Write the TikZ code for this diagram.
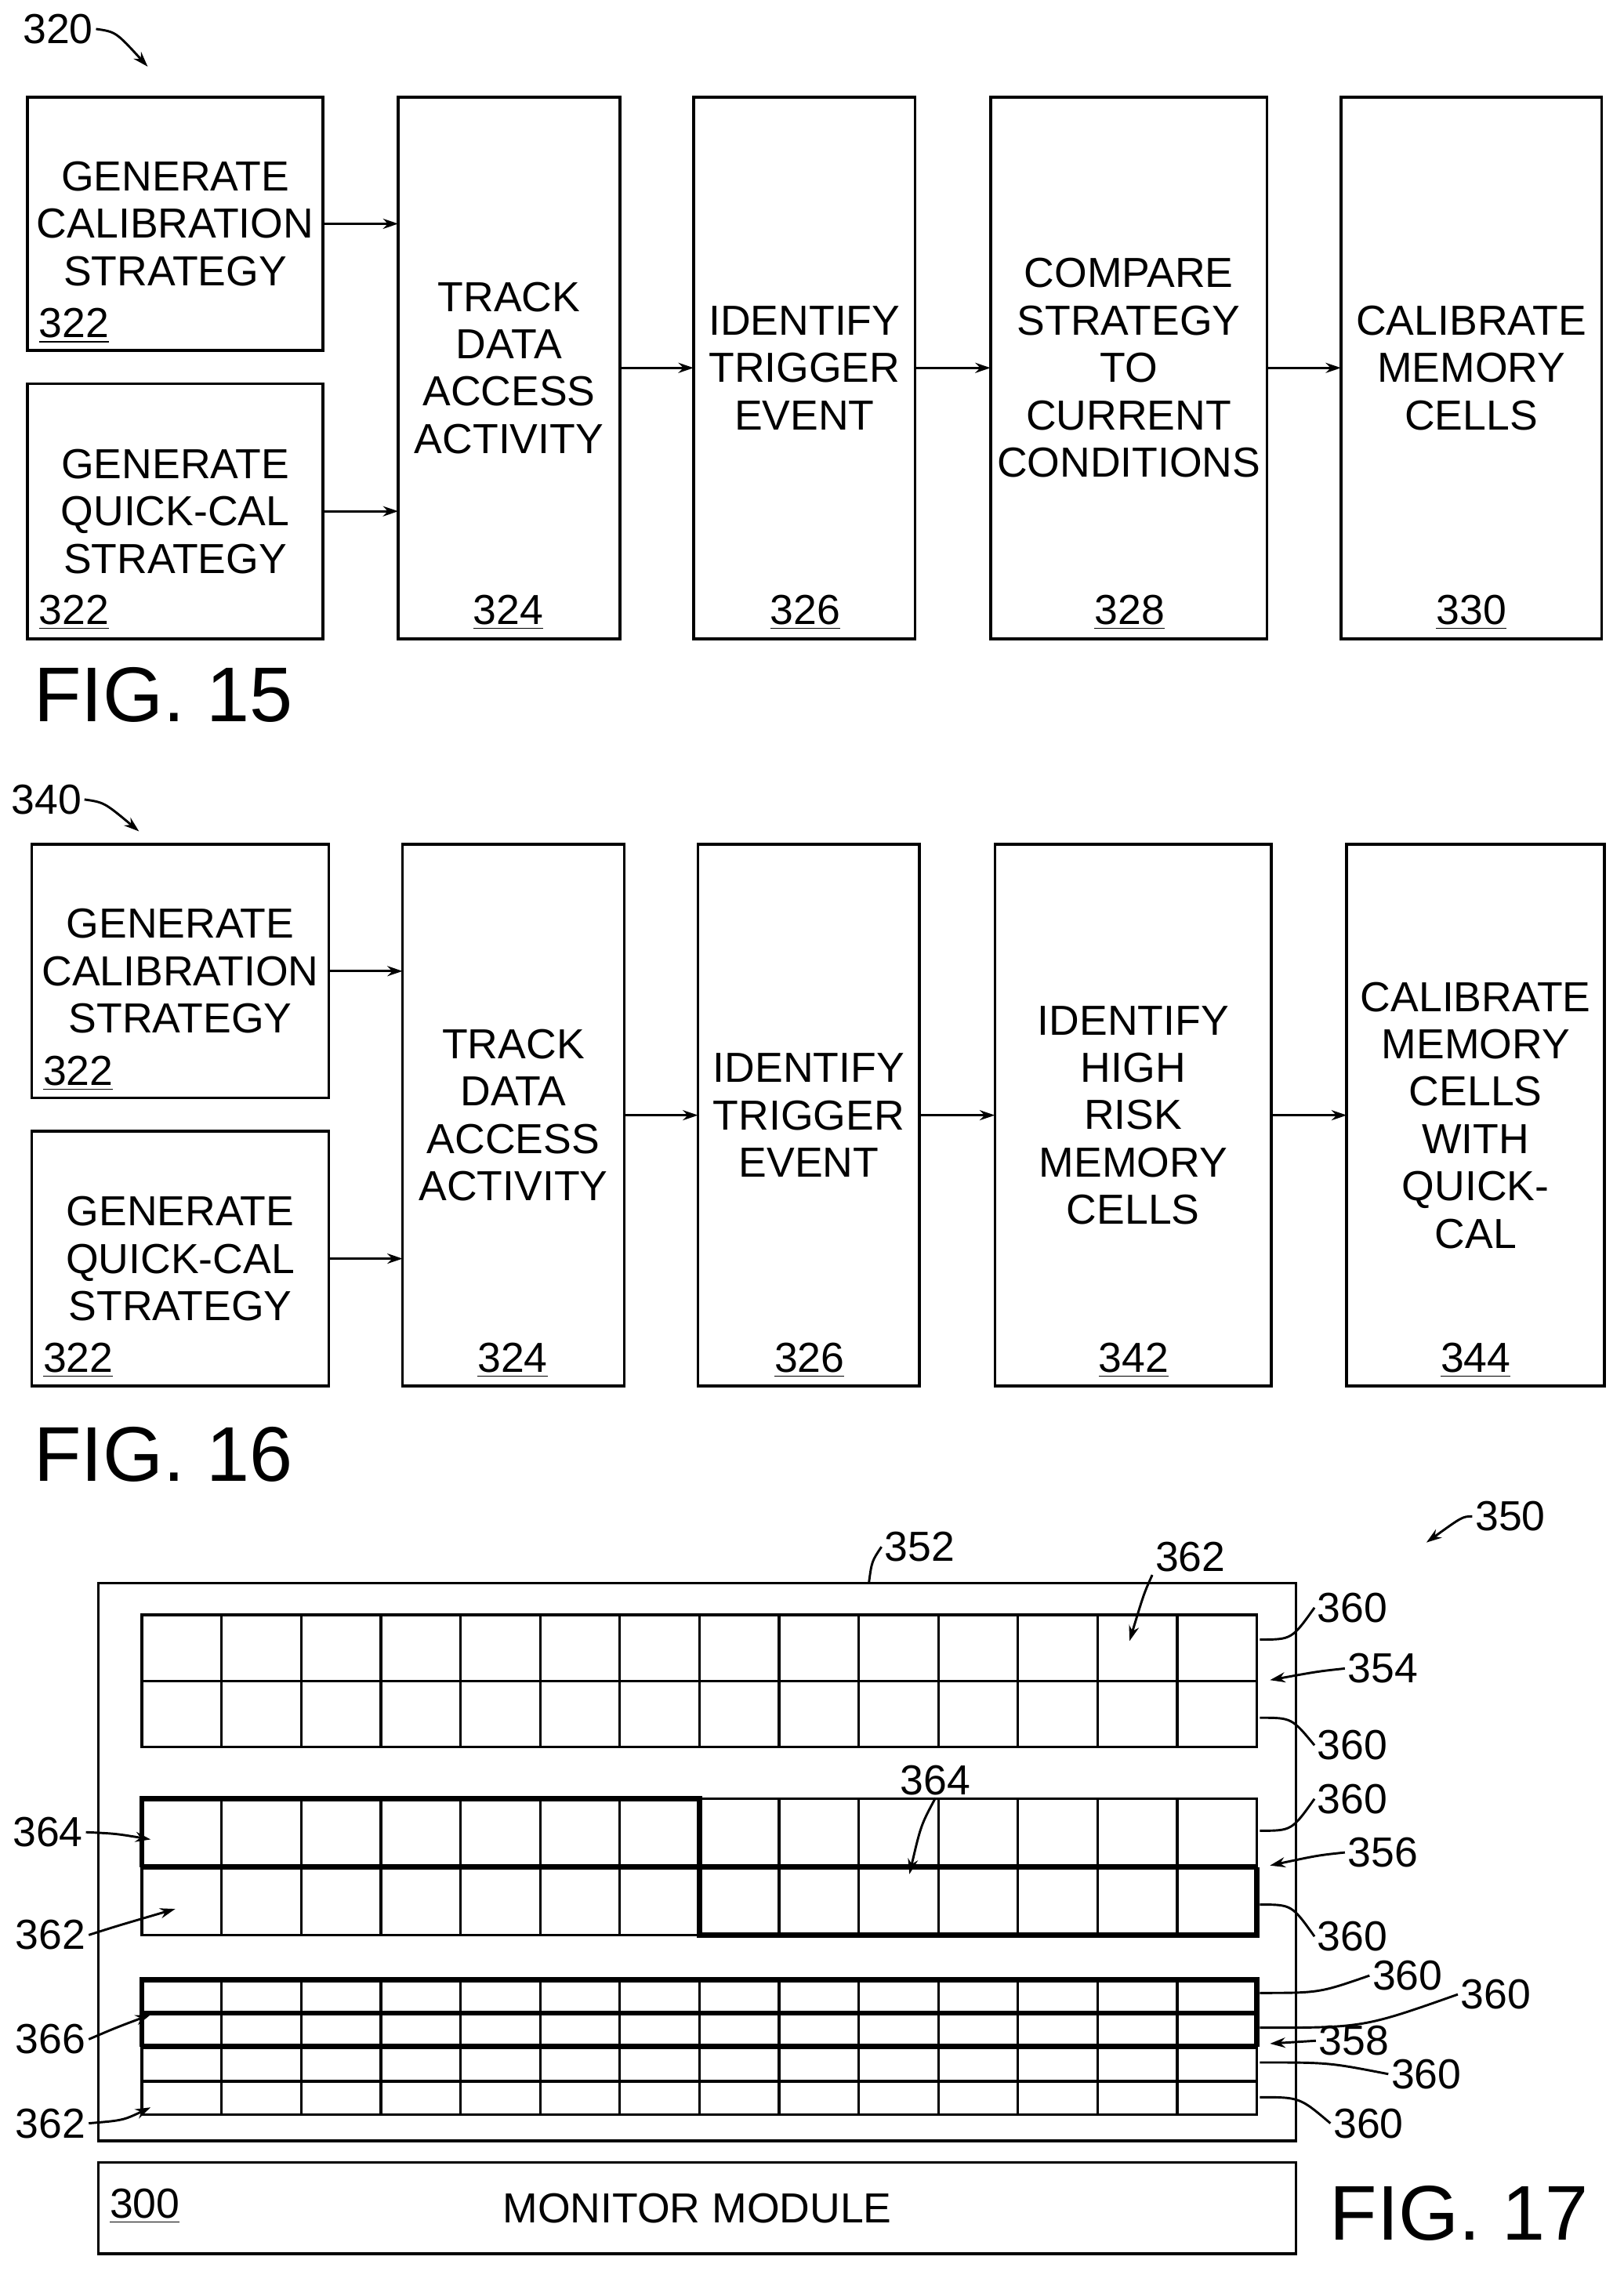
\documentclass[tikz,border=0pt]{standalone}
\usepackage{fontspec}
\setmainfont{Liberation Sans}
\usetikzlibrary{arrows.meta}

\tikzset{
  box/.style={draw,line width=1.1pt,inner sep=0pt,outer sep=0pt,align=center,
              font=\fontsize{16.5}{18.6}\selectfont},
  num/.style={font=\fontsize{16.5}{17}\selectfont,inner sep=1pt},
  fig/.style={font=\fontsize{30.5}{31}\selectfont,anchor=west,inner sep=0pt},
  arr/.style={line width=0.9pt,-{Stealth[length=6pt,width=4pt]}},
  lead/.style={line width=0.9pt},
  thin grid/.style={line width=1pt},
  thick grid/.style={line width=2pt}
}
\newcommand\blk[6]{\node[box,minimum width={(#4-#2)*0.02cm},minimum height={(#5-#3)*0.02cm}]
  (#1) at ({(#2+#4)/2},{(#3+#5)/2}) {#6};}

\begin{document}
\begin{tikzpicture}[x=0.02cm,y=-0.02cm]
\useasboundingbox (0,0) rectangle (1121,1568);

% FIG. 15
\blk{a1}{19}{67}{223}{242}{GENERATE\\CALIBRATION\\STRATEGY}
\blk{a2}{19}{265}{223}{441}{GENERATE\\QUICK-CAL\\STRATEGY}
\blk{b}{275}{67}{428}{441}{TRACK\\DATA\\ACCESS\\ACTIVITY}
\blk{c}{479}{67}{632}{441}{IDENTIFY\\TRIGGER\\EVENT}
\blk{d}{684}{67}{875}{441}{COMPARE\\STRATEGY\\TO\\CURRENT\\CONDITIONS}
\blk{e}{926}{67}{1106}{441}{CALIBRATE\\MEMORY\\CELLS}
\node[num] at (51,423) {\underline{322}};
\node[num] at (51,225) {\underline{322}};
\node[num] at (351,423) {\underline{324}};
\node[num] at (556,423) {\underline{326}};
\node[num] at (780,423) {\underline{328}};
\node[num] at (1016,423) {\underline{330}};
\draw[arr] (a1.east) -- (b.west |- a1.east);
\draw[arr] (a2.east) -- (b.west |- a2.east);
\draw[arr] (b.east) -- (c.west);
\draw[arr] (c.east) -- (d.west);
\draw[arr] (d.east) -- (e.west);
\node[num] (l320) at (40,20) {320};
\coordinate (t320) at (102,46);
\draw[arr] (l320.east) .. controls (80,22) .. (t320);
\node[fig] at (23,480) {FIG. 15};

% FIG. 16
\blk{f1}{22}{583}{227}{758}{GENERATE\\CALIBRATION\\STRATEGY}
\blk{f2}{22}{781}{227}{957}{GENERATE\\QUICK-CAL\\STRATEGY}
\blk{g}{278}{583}{431}{957}{TRACK\\DATA\\ACCESS\\ACTIVITY}
\blk{h}{482}{583}{635}{957}{IDENTIFY\\TRIGGER\\EVENT}
\blk{i}{687}{583}{878}{957}{IDENTIFY\\HIGH\\RISK\\MEMORY\\CELLS}
\blk{j}{930}{583}{1108}{957}{CALIBRATE\\MEMORY\\CELLS\\WITH\\QUICK-\\CAL}
\node[num] at (54,741) {\underline{322}};
\node[num] at (54,939) {\underline{322}};
\node[num] at (354,939) {\underline{324}};
\node[num] at (559,939) {\underline{326}};
\node[num] at (783,939) {\underline{342}};
\node[num] at (1019,939) {\underline{344}};
\draw[arr] (f1.east) -- (g.west |- f1.east);
\draw[arr] (f2.east) -- (g.west |- f2.east);
\draw[arr] (g.east) -- (h.west);
\draw[arr] (h.east) -- (i.west);
\draw[arr] (i.east) -- (j.west);
\node[num] (l340) at (32,552) {340};
\coordinate (t340) at (96,574);
\draw[arr] (l340.east) .. controls (72,554) .. (t340);
\node[fig] at (23,1004) {FIG. 16};

% FIG. 17
\blk{dev}{68}{1093}{895}{1478}{}
\blk{mon}{68}{1493}{895}{1556}{MONITOR MODULE}
\node[num] at (100,1523) {\underline{300}};
\node[fig] at (918,1528) {FIG. 17};
% grids
\foreach \t/\b in {1115/1206,1242/1336} {
  \draw[thin grid] (98,\t) rectangle (868,\b);
  \draw[thin grid] (98,{(\t+\b)/2}) -- (868,{(\t+\b)/2});
  \foreach \k in {1,...,13} \draw[thin grid] ({98+55*\k},\t) -- ({98+55*\k},\b);
}
\draw[thick grid] (98,1289) -- (98,1242) -- (483,1242) -- (483,1336) -- (868,1336) -- (868,1289);
\draw[thick grid] (98,1289) -- (868,1289);
\draw[thin grid] (98,1367) rectangle (868,1460);
\foreach \y in {1437} \draw[thin grid] (98,\y) -- (868,\y);
\foreach \k in {1,...,13} \draw[thin grid] ({98+55*\k},1367) -- ({98+55*\k},1460);
\draw[thick grid] (98,1413) -- (98,1367) -- (868,1367) -- (868,1413);
\draw[thick grid] (98,1390) -- (868,1390);
\draw[thick grid] (98,1413) -- (868,1413);
% labels
\node[num] (l350) at (1043,1047) {350};
\draw[arr] (l350.west) .. controls (1010,1047) .. (985,1065);
\node[num] (l352) at (635,1068) {352};
\coordinate (d352) at (600,1093);
\draw[lead] (d352) .. controls (602,1078) .. (l352.west);
\node[num] (l362a) at (822,1075) {362};
\coordinate (t362a) at (780,1133);
\draw[arr] (l362a.south west) .. controls (790,1100) .. (t362a);
\node[num] (l354) at (955,1152) {354};
\coordinate (t354) at (877,1160);
\draw[arr] (l354.west) .. controls (910,1154) .. (t354);
\node[num] (l356) at (955,1279) {356};
\coordinate (t356) at (877,1288);
\draw[arr] (l356.west) .. controls (910,1281) .. (t356);
\node[num] (l358) at (935,1409) {358};
\coordinate (t358) at (877,1411);
\draw[arr] (l358.west) -- (t358);
\node[num] (l364a) at (646,1229) {364};
\coordinate (t364a) at (628,1294);
\draw[arr] (l364a.south) .. controls (636,1260) .. (t364a);
\node[num] (l364b) at (33,1265) {364};
\coordinate (t364b) at (104,1270);
\draw[arr] (l364b.east) .. controls (80,1266) .. (t364b);
\node[num] (l362b) at (35,1336) {362};
\coordinate (t362b) at (121,1318);
\draw[arr] (l362b.east) .. controls (80,1330) .. (t362b);
\node[num] (l366) at (35,1408) {366};
\coordinate (t366) at (104,1391);
\draw[arr] (l366.east) .. controls (80,1400) .. (t366);
\node[num] (l362c) at (35,1466) {362};
\coordinate (t362c) at (104,1455);
\draw[arr] (l362c.east) .. controls (85,1464) .. (t362c);
% 360 leaders
\foreach \n/\lx/\ly/\ex/\ey in {a/934/1110/870/1132, b/934/1205/870/1186,
    c/934/1242/870/1264, d/934/1337/870/1315, e/972/1364/870/1376,
    f/1033/1377/870/1400, g/985/1432/870/1424, h/945/1466/870/1448} {
  \node[num] (l360\n) at (\lx,\ly) {360};
  \coordinate (e360\n) at (\ex,\ey);
  \draw[lead] (e360\n) .. controls ({(\ex+\lx)/2-10},\ey) .. (l360\n.west);
}
\end{tikzpicture}
\end{document}
